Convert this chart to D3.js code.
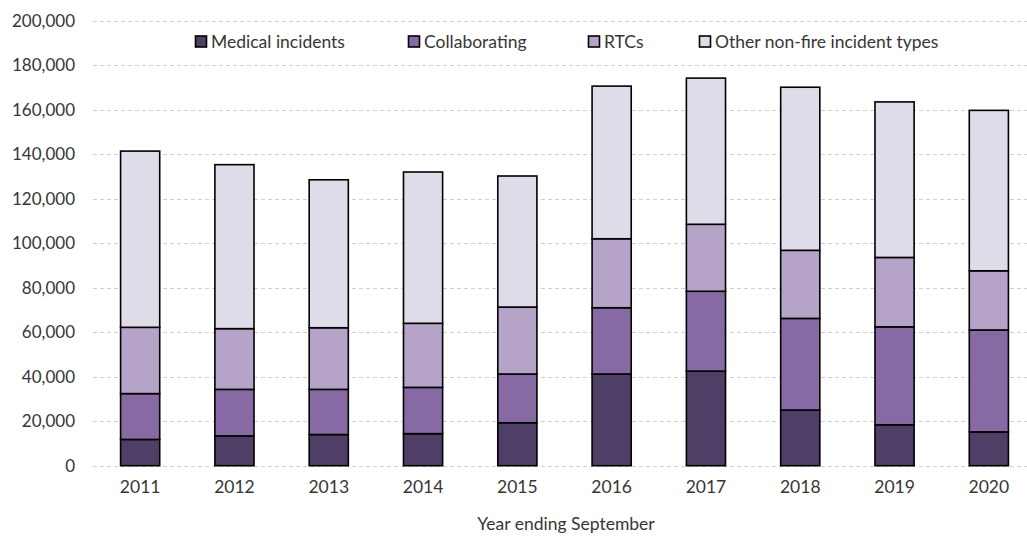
<!DOCTYPE html>
<html>
<head>
<meta charset="utf-8">
<script src="https://cdn.jsdelivr.net/npm/d3@7"></script>
<style>
  html, body { margin: 0; padding: 0; background: #fff; }
  svg { display: block; }
  text { font-family: Lato, "Open Sans", sans-serif; fill: #363636; }
</style>
</head>
<body>
<svg id="chart" width="1027" height="538"></svg>
<script>
const categories = ["2011","2012","2013","2014","2015","2016","2017","2018","2019","2020"];
const seriesNames = ["Medical incidents","Collaborating","RTCs","Other non-fire incident types"];
const medical       = [11.8, 13.4, 14.0, 14.4, 19.3, 41.2, 42.5, 25.0, 18.4, 15.2];
const collaborating = [20.6, 20.9, 20.3, 20.8, 21.9, 29.8, 35.9, 41.2, 44.0, 45.8];
const rtcs          = [29.8, 27.3, 27.7, 28.8, 30.1, 31.0, 30.1, 30.6, 31.2, 26.6];
const other         = [79.2, 73.7, 66.5, 68.0, 58.9, 68.6, 65.7, 73.3, 69.9, 72.1];
const yTicks = [0, 20000, 40000, 60000, 80000, 100000, 120000, 140000, 160000, 180000, 200000];
const colors = ["#4f3f67", "#876aa4", "#b5a4c8", "#e0dbe9"];

const seriesValues = [medical, collaborating, rtcs, other];
const table = categories.map((c, i) => {
  const row = { year: c };
  seriesNames.forEach((s, j) => row[s] = seriesValues[j][i] * 1000);
  return row;
});

const svg = d3.select("#chart");
const x = d3.scaleBand().domain(categories).range([93, 1036]).paddingInner(0.585).paddingOuter(0.2925);
const y = d3.scaleLinear().domain([0, 200000]).range([465.7, 20.7]);

// gridlines
svg.append("g").selectAll("line").data(yTicks).join("line")
  .attr("x1", 93).attr("x2", 1027)
  .attr("y1", d => Math.round(y(d)) + 0.5).attr("y2", d => Math.round(y(d)) + 0.5)
  .attr("stroke", "#d0d0d0").attr("stroke-width", 1).attr("stroke-dasharray", "4,3");

// y axis labels
const yAxis = d3.axisLeft(y).tickValues(yTicks).tickSize(0).tickPadding(0).tickFormat(d3.format(","));
const yg = svg.append("g").attr("transform", "translate(75,0)").call(yAxis);
yg.select(".domain").remove();
yg.selectAll("text").style("font-size", "17px").style("font-family", "Lato, sans-serif").attr("fill", "#363636");

// stacked bars
const stack = d3.stack().keys(seriesNames);
const stacked = stack(table);
svg.append("g").selectAll("g").data(stacked).join("g")
  .attr("fill", (d, i) => colors[i])
  .selectAll("rect").data(d => d).join("rect")
  .attr("x", d => x(d.data.year))
  .attr("width", x.bandwidth())
  .attr("y", d => y(d[1]))
  .attr("height", d => y(d[0]) - y(d[1]))
  .attr("stroke", "#000").attr("stroke-width", 1.6);

// x axis labels
const xAxis = d3.axisBottom(x).tickSize(0).tickPadding(0);
const xg = svg.append("g").attr("transform", "translate(0,481)").call(xAxis);
xg.select(".domain").remove();
xg.selectAll("text").style("font-size", "17.5px").style("font-family", "Lato, sans-serif").attr("fill", "#363636");

// x axis title
svg.append("text").attr("x", 566).attr("y", 530).attr("text-anchor", "middle")
  .style("font-size", "17.5px").text("Year ending September");

// legend
const legendX = [195, 408, 588, 699];
const lg = svg.append("g").selectAll("g").data(seriesNames).join("g")
  .attr("transform", (d, i) => `translate(${legendX[i]},36)`);
lg.append("rect").attr("x", 0.5).attr("y", 0).attr("width", 11).attr("height", 11)
  .attr("fill", (d, i) => colors[i]).attr("stroke", "#000").attr("stroke-width", 1.6);
lg.append("text").attr("x", 16).attr("y", 12).style("font-size", "17.5px").text(d => d);
</script>
</body>
</html>
